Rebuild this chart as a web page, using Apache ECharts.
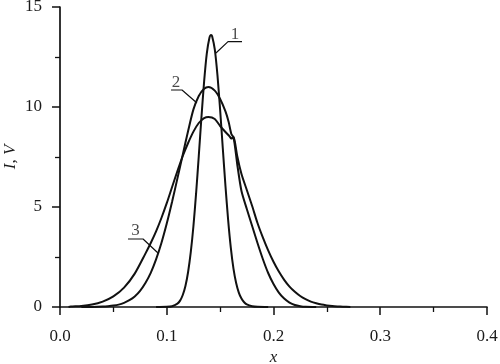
<!DOCTYPE html>
<html>
<head>
<meta charset="utf-8">
<script src="https://cdn.jsdelivr.net/npm/echarts@6/dist/echarts.min.js"></script>
<style>html,body{margin:0;padding:0;background:#fff;}#chart{width:500px;height:364px;}</style>
</head>
<body>
<div id="chart"></div>
<script>
// x ticks / y ticks
const xTicks = [0.0, 0.1, 0.2, 0.3, 0.4];
const yTicks = [0, 5, 10, 15];

// curve 1 (narrow peak)
const curve1 = [[0.090,0],[0.100,0.01],[0.105,0.04],[0.110,0.17],[0.1125,0.32],[0.115,0.6],[0.1175,1.05],[0.120,1.75],[0.1225,2.74],[0.125,4.05],[0.1275,5.69],[0.130,7.55],[0.1325,9.49],[0.135,11.27],[0.1375,12.67],[0.140,13.46],[0.1415,13.6],[0.1425,13.54],[0.145,12.88],[0.1475,11.59],[0.150,9.86],[0.1525,7.94],[0.155,6.05],[0.1575,4.36],[0.160,2.97],[0.1625,1.92],[0.165,1.2],[0.1675,0.72],[0.170,0.42],[0.1725,0.24],[0.175,0.13],[0.180,0.04],[0.185,0.01],[0.195,0]];

// curve 2 (peak ~11)
const curve2 = [[0.020,0],[0.030,0.003],[0.040,0.02],[0.045,0.04],[0.050,0.07],[0.055,0.12],[0.060,0.21],[0.065,0.34],[0.070,0.53],[0.075,0.81],[0.080,1.2],[0.085,1.71],[0.090,2.38],[0.095,3.2],[0.100,4.17],[0.105,5.26],[0.110,6.43],[0.115,7.62],[0.120,8.8],[0.125,9.88],[0.130,10.55],[0.135,10.91],[0.139,11.0],[0.145,10.82],[0.150,10.4],[0.155,9.78],[0.158,9.25],[0.1605,8.65],[0.1625,8.48],[0.164,8.0],[0.166,7.15],[0.170,5.8],[0.175,4.9],[0.180,4.05],[0.185,3.2],[0.190,2.4],[0.195,1.7],[0.200,1.15],[0.205,0.72],[0.210,0.42],[0.215,0.22],[0.220,0.1],[0.225,0.04],[0.230,0.01],[0.240,0]];

// curve 3 (broad, peak ~9.5)
const curve3 = [[0.008,0],[0.010,0.02],[0.020,0.05],[0.030,0.12],[0.040,0.27],[0.050,0.53],[0.060,0.97],[0.070,1.67],[0.080,2.67],[0.085,3.2],[0.090,3.78],[0.095,4.45],[0.100,5.19],[0.105,6.0],[0.110,6.8],[0.115,7.55],[0.120,8.2],[0.125,8.77],[0.130,9.2],[0.135,9.44],[0.139,9.5],[0.145,9.4],[0.150,9.05],[0.155,8.75],[0.159,8.52],[0.1605,8.42],[0.1625,8.5],[0.164,8.2],[0.166,7.55],[0.170,6.65],[0.175,5.85],[0.180,5.05],[0.185,4.2],[0.190,3.48],[0.195,2.83],[0.200,2.26],[0.205,1.77],[0.210,1.36],[0.215,1.02],[0.220,0.76],[0.225,0.55],[0.230,0.39],[0.235,0.27],[0.240,0.185],[0.245,0.12],[0.250,0.08],[0.255,0.05],[0.260,0.03],[0.265,0.015],[0.272,0]];

// curve labels and leader lines (data coordinates)
const labelNames = ['1', '2', '3'];
const labelPos = [[0.1639, 13.63], [0.1087, 11.23], [0.0707, 3.8]];
const leader1 = [[0.1461, 12.7], [0.1574, 13.27], [0.1705, 13.27]];
const leader2 = [[0.1040, 10.85], [0.1143, 10.85], [0.1283, 10.2]];
const leader3 = [[0.0637, 3.4], [0.0778, 3.4], [0.0918, 2.7]];

const FONT = "'Liberation Serif','Times New Roman',serif";
const INK = '#111';
const TXT = '#1a1a1a';

const chart = echarts.init(document.getElementById('chart'), null, {renderer: 'canvas'});

function curve(data) {
  return {type: 'line', data: data, smooth: 0.25, symbol: 'none', silent: true,
          lineStyle: {color: INK, width: 2}, z: 3};
}
function leader(data) {
  return {type: 'line', data: data, smooth: false, symbol: 'none', silent: true,
          lineStyle: {color: INK, width: 1.2}, z: 4};
}

chart.setOption({
  animation: false,
  backgroundColor: '#fff',
  grid: {left: 60, right: 13, top: 7, bottom: 57, containLabel: false, outerBoundsMode: 'none'},
  xAxis: {
    type: 'value', min: xTicks[0], max: xTicks[xTicks.length - 1], interval: 0.1,
    name: 'x', nameLocation: 'middle', nameGap: 42, nameMoveOverlap: false,
    nameTextStyle: {fontFamily: FONT, fontStyle: 'italic', fontSize: 17, color: TXT},
    axisLine: {show: true, onZero: false, lineStyle: {color: INK, width: 1.7}},
    axisTick: {show: true, length: 8, lineStyle: {color: INK, width: 1.5}},
    minorTick: {show: true, splitNumber: 2, length: 5, lineStyle: {color: INK, width: 1.3}},
    splitLine: {show: false},
    axisLabel: {margin: 21, fontFamily: FONT, fontSize: 17, color: TXT,
                formatter: v => v.toFixed(1)}
  },
  yAxis: {
    type: 'value', min: yTicks[0], max: yTicks[yTicks.length - 1], interval: 5,
    name: 'I, V', nameLocation: 'middle', nameGap: 41, nameRotate: 90, nameMoveOverlap: false,
    nameTextStyle: {fontFamily: FONT, fontStyle: 'italic', fontSize: 17, color: TXT},
    axisLine: {show: true, onZero: false, lineStyle: {color: INK, width: 1.7}},
    axisTick: {show: true, length: 8, lineStyle: {color: INK, width: 1.5}},
    minorTick: {show: true, splitNumber: 2, length: 5, lineStyle: {color: INK, width: 1.3}},
    splitLine: {show: false},
    axisLabel: {margin: 18, fontFamily: FONT, fontSize: 17, color: TXT}
  },
  series: [
    curve(curve3),
    curve(curve2),
    curve(curve1),
    leader(leader1),
    leader(leader2),
    leader(leader3),
    {
      type: 'scatter', symbolSize: 0, silent: true, z: 5,
      data: labelPos.map((p, i) => ({value: p, name: labelNames[i]})),
      label: {show: true, position: 'inside', formatter: p => p.name,
              fontFamily: FONT, fontSize: 17, color: TXT}
    }
  ]
});
</script>
</body>
</html>
